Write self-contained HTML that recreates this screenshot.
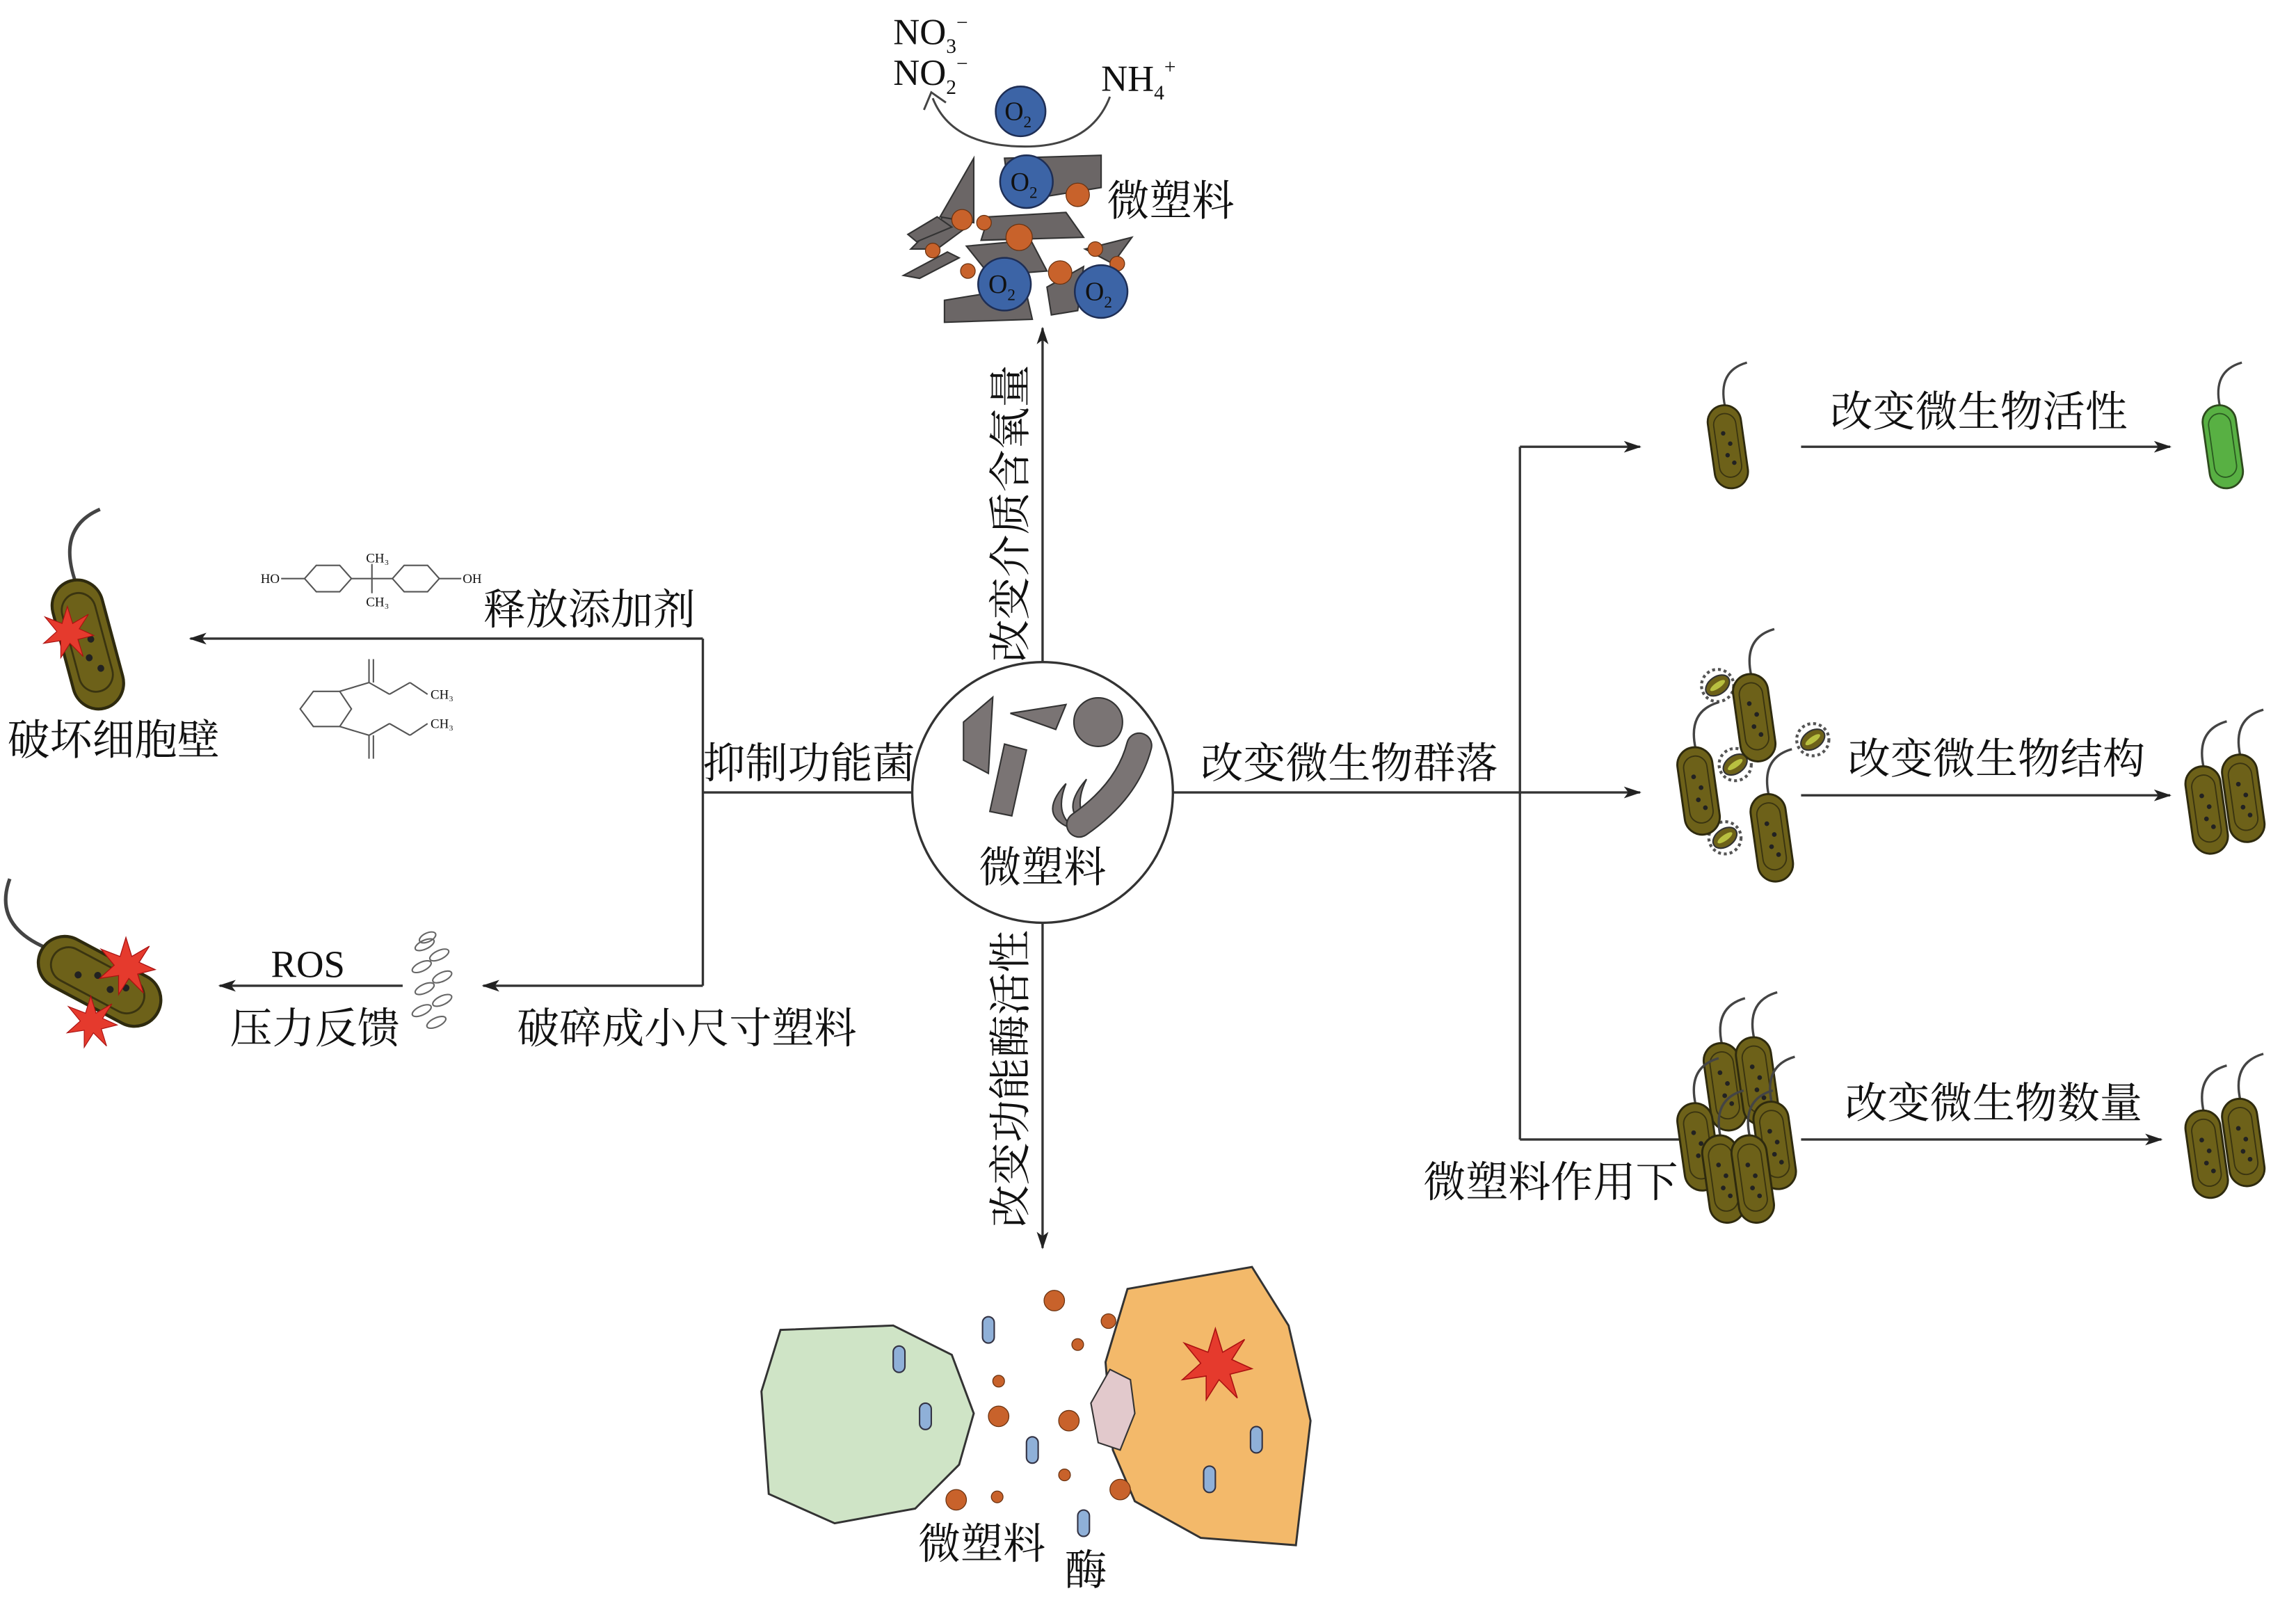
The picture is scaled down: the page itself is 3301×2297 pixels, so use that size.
<!DOCTYPE html>
<html><head><meta charset="utf-8"><style>
html,body{margin:0;padding:0;background:#fff}
svg{display:block}
text{font-family:"Liberation Serif","Noto Serif CJK SC",serif;fill:#111}
</style></head><body>
<svg width="3301" height="2297" viewBox="0 0 1568 1091" xmlns="http://www.w3.org/2000/svg">
<defs>
<marker id="ar" viewBox="0 0 12 8" refX="11" refY="4" markerWidth="12" markerHeight="8" markerUnits="userSpaceOnUse" orient="auto">
<path d="M0,0 L12,4 L0,8 L3,4 Z" fill="#222"/></marker>
<g id="bac">
<path d="M2,-29 Q0,-55 22,-58" fill="none" stroke="#444" stroke-width="1.6"/>
<rect x="-12" y="-30" width="24" height="60" rx="12" fill="#6d6119" stroke="#2e2a0e" stroke-width="1.4"/>
<rect x="-8" y="-24" width="16" height="46" rx="8" fill="none" stroke="#3a3410" stroke-width="0.9"/>
<circle cx="-2" cy="-10" r="1.6" fill="#222"/><circle cx="2" cy="-2" r="1.6" fill="#222"/><circle cx="-1" cy="6" r="1.6" fill="#222"/><circle cx="3" cy="12" r="1.6" fill="#222"/>
</g>
<g id="bacg">
<path d="M2,-29 Q0,-55 22,-58" fill="none" stroke="#444" stroke-width="1.6"/>
<rect x="-12" y="-30" width="24" height="60" rx="12" fill="#58b043" stroke="#2e4a1e" stroke-width="1.4"/>
<rect x="-8" y="-24" width="16" height="46" rx="8" fill="none" stroke="#2a5a20" stroke-width="0.9"/>
</g>
<g id="spk">
<circle r="11" fill="none" stroke="#555" stroke-width="2" stroke-dasharray="2 2"/>
<ellipse rx="9" ry="6" fill="#6d6119" stroke="#333" transform="rotate(-35)"/>
<ellipse rx="6" ry="2" fill="#b8c040" transform="rotate(-35)"/>
</g>
<polygon id="star" points="0,-20 4,-7 16,-14 9,-3 20,2 8,5 12,18 2,8 -5,19 -5,6 -18,8 -8,-1 -17,-12 -4,-7" fill="#e53a2d" stroke="#a11" stroke-width="0.6"/>
</defs>

<g stroke="#333" stroke-width="1.6" fill="none">
<line x1="712" y1="452" x2="712" y2="224" marker-end="url(#ar)"/>
<line x1="712" y1="630" x2="712" y2="852" marker-end="url(#ar)"/>
<line x1="623" y1="541" x2="480" y2="541"/>
<line x1="480" y1="436" x2="480" y2="673"/>
<line x1="480" y1="436" x2="130" y2="436" marker-end="url(#ar)"/>
<line x1="480" y1="673" x2="330" y2="673" marker-end="url(#ar)"/>
<line x1="275" y1="673" x2="150" y2="673" marker-end="url(#ar)"/>
<line x1="801" y1="541" x2="1120" y2="541" marker-end="url(#ar)"/>
<line x1="1038" y1="305" x2="1038" y2="778"/>
<line x1="1038" y1="305" x2="1120" y2="305" marker-end="url(#ar)"/>
<line x1="1038" y1="778" x2="1150" y2="778"/>
<line x1="1230" y1="305" x2="1482" y2="305" marker-end="url(#ar)"/>
<line x1="1230" y1="543" x2="1482" y2="543" marker-end="url(#ar)"/>
<line x1="1230" y1="778" x2="1476" y2="778" marker-end="url(#ar)"/>
</g>

<circle cx="712" cy="541" r="89" fill="#fff" stroke="#333" stroke-width="1.6"/>
<g fill="#7a7474" stroke="#333" stroke-width="1">
<polygon points="658,493 678,476 675,528 658,519"/>
<polygon points="686,508 701,512 691,557 676,554"/>
<polygon points="690,487 728,481 721,498"/>
<circle cx="750" cy="493" r="16.6"/>
<path d="M728,535 Q705,560 740,568 Q718,560 728,535 Z"/>
<path d="M742,532 Q722,555 745,565 Q732,552 742,532 Z"/>
</g>
<path d="M778,509 Q770,540 737,563" fill="none" stroke="#333" stroke-width="18" stroke-linecap="round"/>
<path d="M778,509 Q770,540 737,563" fill="none" stroke="#7a7474" stroke-width="16" stroke-linecap="round"/>
<text x="712" y="602" font-size="29" text-anchor="middle">微塑料</text>

<text x="480" y="531" font-size="29">抑制功能菌</text>
<text x="330" y="426" font-size="29">释放添加剂</text>
<text x="353" y="712" font-size="29">破碎成小尺寸塑料</text>
<text x="185" y="667" font-size="26">ROS</text>
<text x="157" y="712" font-size="29">压力反馈</text>
<text x="5" y="515" font-size="29">破坏细胞壁</text>
<text x="820" y="531" font-size="29">改变微生物群落</text>
<text x="972" y="817" font-size="29">微塑料作用下</text>
<text x="1250" y="291" font-size="29">改变微生物活性</text>
<text x="1262" y="528" font-size="29">改变微生物结构</text>
<text x="1260" y="763" font-size="29">改变微生物数量</text>
<text transform="translate(700,452) rotate(-90)" font-size="29">改变介质含氧量</text>
<text transform="translate(700,838) rotate(-90)" font-size="29">改变功能酶活性</text>

<g fill="#6b6666" stroke="#333" stroke-width="1">
<polygon points="622,170 660,132 663,153 640,170"/>
<polygon points="642,148 665,108 665,152"/>
<polygon points="686,108 752,106 752,128 690,138"/>
<polygon points="675,148 728,145 740,162 670,164"/>
<polygon points="617,188 647,172 655,176 628,190"/>
<polygon points="660,168 704,164 715,185 676,188"/>
<polygon points="645,205 700,196 705,218 645,220"/>
<polygon points="715,196 740,182 736,212 718,215"/>
<polygon points="741,170 773,162 760,180"/>
<polygon points="620,160 640,148 650,155 626,165"/>
</g>
<g fill="#c8622b" stroke="#6a3210" stroke-width="0.6">
<circle cx="736" cy="133" r="8"/><circle cx="657" cy="150" r="7"/><circle cx="696" cy="162" r="9"/>
<circle cx="724" cy="186" r="8"/><circle cx="637" cy="171" r="5"/><circle cx="661" cy="185" r="5"/>
<circle cx="748" cy="170" r="5"/><circle cx="763" cy="180" r="5"/><circle cx="672" cy="152" r="5"/>
</g>
<path d="M758,66 Q745,100 700,100 Q650,100 637,67" fill="none" stroke="#444" stroke-width="1.4"/>
<path d="M631,75 L636,63 L646,70" fill="none" stroke="#444" stroke-width="1.4"/>
<g fill="#3c64a6" stroke="#1e2e55" stroke-width="1.2">
<circle cx="697" cy="76" r="17"/><circle cx="701" cy="124" r="18"/><circle cx="686" cy="194" r="18"/><circle cx="752" cy="199" r="18"/>
</g>
<g font-size="18" fill="#111">
<text x="686" y="82">O<tspan font-size="11" dy="5">2</tspan></text>
<text x="690" y="130">O<tspan font-size="11" dy="5">2</tspan></text>
<text x="675" y="200">O<tspan font-size="11" dy="5">2</tspan></text>
<text x="741" y="205">O<tspan font-size="11" dy="5">2</tspan></text>
</g>
<text x="610" y="30" font-size="25">NO<tspan font-size="14" dy="6">3</tspan><tspan font-size="14" dy="-16">−</tspan></text>
<text x="610" y="58" font-size="25">NO<tspan font-size="14" dy="6">2</tspan><tspan font-size="14" dy="-16">−</tspan></text>
<text x="752" y="62" font-size="25">NH<tspan font-size="14" dy="6">4</tspan><tspan font-size="14" dy="-18">+</tspan></text>
<text x="756" y="147" font-size="29">微塑料</text>

<g fill="none" stroke="#555" stroke-width="1">
<polygon points="208,395 216,386 232,386 240,395 232,404 216,404"/>
<polygon points="268,395 276,386 292,386 300,395 292,404 276,404"/>
<line x1="192" y1="395" x2="208" y2="395"/><line x1="240" y1="395" x2="268" y2="395"/>
<line x1="300" y1="395" x2="315" y2="395"/><line x1="254" y1="385" x2="254" y2="405"/>
<polygon points="205,484 214,472 232,472 240,484 232,496 214,496"/>
<line x1="232" y1="472" x2="252" y2="466"/><line x1="252" y1="466" x2="252" y2="450"/><line x1="255" y1="466" x2="255" y2="450"/>
<line x1="252" y1="466" x2="266" y2="474"/><line x1="266" y1="474" x2="280" y2="466"/><line x1="280" y1="466" x2="292" y2="474"/>
<line x1="232" y1="496" x2="252" y2="502"/><line x1="252" y1="502" x2="252" y2="518"/><line x1="255" y1="502" x2="255" y2="518"/>
<line x1="252" y1="502" x2="266" y2="494"/><line x1="266" y1="494" x2="280" y2="502"/><line x1="280" y1="502" x2="292" y2="494"/>
</g>
<g font-size="9" fill="#555" font-family="Liberation Sans,sans-serif">
<text x="178" y="398">HO</text><text x="316" y="398">OH</text>
<text x="250" y="384">CH₃</text><text x="250" y="414">CH₃</text>
<text x="294" y="477">CH₃</text><text x="294" y="497">CH₃</text>
</g>
<g fill="none" stroke="#666" stroke-width="1">
<ellipse cx="290" cy="645" rx="7" ry="3" transform="rotate(-25 290 645)"/>
<ellipse cx="300" cy="652" rx="7" ry="3" transform="rotate(-25 300 652)"/>
<ellipse cx="288" cy="660" rx="7" ry="3" transform="rotate(-25 288 660)"/>
<ellipse cx="302" cy="667" rx="7" ry="3" transform="rotate(-25 302 667)"/>
<ellipse cx="290" cy="675" rx="7" ry="3" transform="rotate(-25 290 675)"/>
<ellipse cx="302" cy="683" rx="7" ry="3" transform="rotate(-25 302 683)"/>
<ellipse cx="288" cy="690" rx="7" ry="3" transform="rotate(-25 288 690)"/>
<ellipse cx="298" cy="698" rx="7" ry="3" transform="rotate(-25 298 698)"/>
<ellipse cx="292" cy="640" rx="6" ry="3" transform="rotate(-25 292 640)"/>
</g>

<use href="#bac" transform="translate(60,440) rotate(-15) scale(1.45,1.5)"/>
<use href="#star" transform="translate(46,432) scale(0.9)"/>
<use href="#bac" transform="translate(68,670) rotate(-62) scale(1.5,1.5)"/>
<use href="#star" transform="translate(86,660)"/>
<use href="#star" transform="translate(62,698) scale(0.9)"/>

<use href="#bac" transform="translate(1180,305) rotate(-8) scale(0.95)"/>
<use href="#bacg" transform="translate(1518,305) rotate(-8) scale(0.95)"/>

<use href="#spk" transform="translate(1173,468)"/>
<use href="#spk" transform="translate(1238,505)"/>
<use href="#spk" transform="translate(1185,522)"/>
<use href="#spk" transform="translate(1178,572)"/>
<use href="#bac" transform="translate(1198,490) rotate(-8)"/>
<use href="#bac" transform="translate(1160,540) rotate(-8)"/>
<use href="#bac" transform="translate(1210,572) rotate(-8)"/>
<use href="#bac" transform="translate(1507,553) rotate(-8)"/>
<use href="#bac" transform="translate(1532,545) rotate(-8)"/>

<use href="#bac" transform="translate(1178,742) rotate(-8)"/>
<use href="#bac" transform="translate(1200,738) rotate(-8)"/>
<use href="#bac" transform="translate(1160,783) rotate(-8)"/>
<use href="#bac" transform="translate(1212,782) rotate(-8)"/>
<use href="#bac" transform="translate(1177,805) rotate(-8)"/>
<use href="#bac" transform="translate(1197,805) rotate(-8)"/>
<use href="#bac" transform="translate(1507,788) rotate(-8)"/>
<use href="#bac" transform="translate(1532,780) rotate(-8)"/>

<polygon points="533,908 610,905 650,925 665,965 655,1000 625,1030 570,1040 525,1020 520,950" fill="#cfe4c6" stroke="#333" stroke-width="1.4"/>
<polygon points="770,880 855,865 880,905 895,970 885,1055 820,1050 775,1025 760,990 755,930" fill="#f3b96a" stroke="#333" stroke-width="1.4"/>
<polygon points="758,935 772,942 775,965 765,990 750,985 745,958" fill="#e2c9cc" stroke="#333" stroke-width="1"/>
<use href="#star" transform="translate(830,932) scale(1.25)"/>
<g fill="#8fb0d8" stroke="#334" stroke-width="1">
<rect x="610" y="919" width="8" height="18" rx="4"/><rect x="628" y="958" width="8" height="18" rx="4"/>
<rect x="671" y="899" width="8" height="18" rx="4"/><rect x="701" y="981" width="8" height="18" rx="4"/>
<rect x="736" y="1031" width="8" height="18" rx="4"/><rect x="854" y="974" width="8" height="18" rx="4"/>
<rect x="822" y="1001" width="8" height="18" rx="4"/>
</g>
<g fill="#c8622b" stroke="#6a3210" stroke-width="0.6">
<circle cx="720" cy="888" r="7"/><circle cx="682" cy="943" r="4"/><circle cx="682" cy="967" r="7"/>
<circle cx="736" cy="918" r="4"/><circle cx="730" cy="970" r="7"/><circle cx="757" cy="902" r="5"/>
<circle cx="765" cy="1017" r="7"/><circle cx="653" cy="1024" r="7"/><circle cx="681" cy="1022" r="4"/>
<circle cx="727" cy="1007" r="4"/>
</g>
<text x="627" y="1064" font-size="29">微塑料</text>
<text x="727" y="1082" font-size="29">酶</text>
</svg>
</body></html>
